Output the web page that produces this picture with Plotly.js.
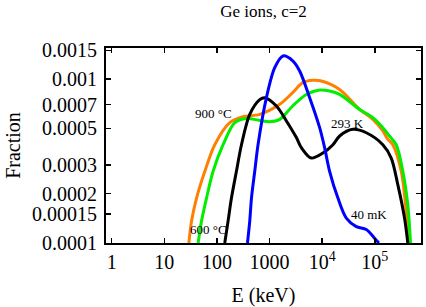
<!DOCTYPE html>
<html>
<head>
<meta charset="utf-8">
<script src="https://cdn.plot.ly/plotly-3.0.1.min.js"></script>
<style>html,body{margin:0;padding:0;background:#fff;}#chart{width:426px;height:307px;}</style>
</head>
<body>
<div id="chart"></div>
<script>
// 900 °C (orange)
const e900 = [29.3, 33, 41, 59, 91, 176, 310, 652, 1563, 2754, 4266, 6607, 9660, 21500, 51500, 92000, 142600, 177400, 220400, 318500, 396000, 443600];
const f900 = [0.0001, 0.000136, 0.000188, 0.000274, 0.000398, 0.000543, 0.00059, 0.00061, 0.000702, 0.000827, 0.000952, 0.000984, 0.000975, 0.000866, 0.000654, 0.000568, 0.000483, 0.000429, 0.000398, 0.000274, 0.000156, 0.0001];
// 600 °C (green)
const e600 = [44, 51, 63.5, 84.7, 131, 219, 365, 652, 1009, 1563, 2754, 5012, 8970, 13870, 21500, 51500, 92000, 142600, 191000, 256000, 341500, 424600, 478600];
const f600 = [0.0001, 0.000136, 0.000188, 0.000274, 0.000398, 0.000543, 0.000576, 0.00056, 0.00055, 0.000568, 0.000686, 0.000807, 0.000859, 0.000847, 0.000807, 0.000654, 0.000582, 0.000506, 0.00045, 0.000398, 0.000274, 0.000171, 0.0001];
// 293 K (black)
const e293 = [141, 163, 189, 235, 293, 421, 652, 811, 1352, 2093, 3239, 4030, 6237, 10360, 16030, 21500, 38400, 69000, 142600, 205600, 274300, 368000, 424600];
const f293 = [0.0001, 0.000136, 0.000188, 0.000274, 0.000398, 0.00061, 0.00075, 0.000771, 0.000686, 0.000556, 0.00044, 0.000382, 0.00033, 0.000354, 0.000398, 0.00045, 0.000494, 0.000471, 0.000398, 0.00033, 0.000227, 0.000142, 0.0001];
// 40 mK (blue)
const e40 = [381, 421, 454, 524, 605, 873, 1256, 1803, 2793, 3741, 5794, 8970, 11150, 13870, 19950, 28780, 44570, 69000, 99100, 119700];
const f40 = [0.0001, 0.000136, 0.000188, 0.000274, 0.000398, 0.000771, 0.001175, 0.001386, 0.001291, 0.001122, 0.000771, 0.000506, 0.000382, 0.000274, 0.000188, 0.000142, 0.000126, 0.000121, 0.000107, 0.0001];

const xTickVals = [1, 10, 100, 1000, 10000, 100000];
const xTickText = ['1', '10', '100', '1000', '10<sup>4</sup>', '10<sup>5</sup>'];
const yTickVals = [0.0001, 0.00015, 0.0002, 0.0003, 0.0005, 0.0007, 0.001, 0.0015];
const yTickText = ['0.0001', '0.00015', '0.0002', '0.0003', '0.0005', '0.0007', '0.001', '0.0015'];

const labels = ['900 °C', '600 °C', '293 K', '40 mK'];

const serif = '"Liberation Serif", "Times New Roman", "DejaVu Serif", serif';
function tr(x, y, color) {
  return {x: x, y: y, type: 'scatter', mode: 'lines',
    line: {color: color, width: 3, shape: 'spline', smoothing: 0.9},
    hoverinfo: 'skip', showlegend: false, cliponaxis: true};
}
const data = [
  tr(e900, f900, '#ff8000'),
  tr(e600, f600, '#00ee00'),
  tr(e293, f293, '#000000'),
  tr(e40, f40, '#0000ff')
];

const W = 426, H = 307, L = 106, R = 4.5, T = 48, B = 64;
const pw = W - L - R, ph = H - T - B;
function px(xp) { return (xp - L) / pw; }
function py(yp) { return (H - B - yp) / ph; }
const annPos = [[213.7, 113.5], [209, 229.3], [347.7, 123], [369, 214.5]];
const annotations = labels.map((t, i) => ({
  text: t, xref: 'paper', yref: 'paper', x: px(annPos[i][0]), y: py(annPos[i][1]),
  xanchor: 'center', yanchor: 'middle', showarrow: false,
  font: {family: serif, size: 13, color: '#000'}
}));

const axisCommon = {
  type: 'log', showgrid: false, zeroline: false, showline: true, linecolor: '#000', linewidth: 2,
  mirror: 'ticks', ticks: 'inside', ticklen: 5, tickwidth: 1.5, tickcolor: '#000',
  tickfont: {family: serif, size: 20, color: '#000'}
};
const layout = {
  width: W, height: H,
  font: {family: serif, color: '#000'},
  margin: {l: L, r: R, t: T, b: B, pad: 0},
  paper_bgcolor: '#fff', plot_bgcolor: '#fff',
  title: {text: 'Ge ions, c=2', font: {family: serif, size: 17, color: '#000'},
    xref: 'paper', x: 0.5, xanchor: 'center', yref: 'container', y: 1 - 11.5 / H, yanchor: 'middle'},
  xaxis: Object.assign({}, axisCommon, {
    range: [Math.log10(0.78), 5.879], tickmode: 'array', tickvals: xTickVals, ticktext: xTickText,
    title: {text: 'E (keV)', font: {family: serif, size: 20, color: '#000'}, standoff: 17}
  }),
  yaxis: Object.assign({}, axisCommon, {
    range: [-4, Math.log10(0.00155)], tickmode: 'array', tickvals: yTickVals, ticktext: yTickText,
    ticklabelstandoff: 3,
    title: {text: 'Fraction', font: {family: serif, size: 20, color: '#000'}, standoff: 6}
  }),
  annotations: annotations
};
Plotly.newPlot('chart', data, layout, {displayModeBar: false, staticPlot: true});
</script>
</body>
</html>
